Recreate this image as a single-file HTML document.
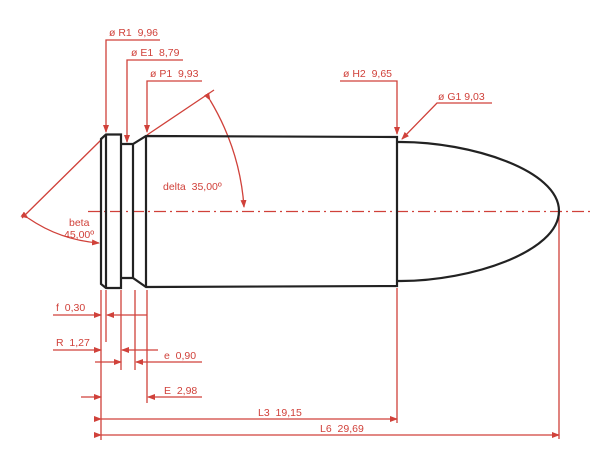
<!DOCTYPE html>
<html><head><meta charset="utf-8"><style>
html,body{margin:0;padding:0;background:#fff;width:600px;height:454px;overflow:hidden}
svg{display:block}
text{font-family:"Liberation Sans",sans-serif;font-size:10.5px;fill:#d0413a;white-space:pre}
</style></head><body>
<svg width="600" height="454" viewBox="0 0 600 454">
<defs>
<marker id="a" markerWidth="8" markerHeight="6" refX="7" refY="3" orient="auto" markerUnits="userSpaceOnUse"><path d="M0,0 L8,3 L0,6z" fill="#d0413a"/></marker>
</defs>
<g stroke="#d0413a" stroke-width="1.3" fill="none">
<line x1="88" y1="211.5" x2="590" y2="211.5" stroke-dasharray="12,4,2,4"/>
<polyline points="160,40 106,40 106,132" marker-end="url(#a)"/>
<polyline points="183,60 127,60 127,142" marker-end="url(#a)"/>
<polyline points="202,81 147,81 147,132" marker-end="url(#a)"/>
<polyline points="340,81 397,81 397,134" marker-end="url(#a)"/>
<polyline points="492,103 437,103 402,139" marker-end="url(#a)"/>
<line x1="147" y1="135" x2="214" y2="90"/>
<line x1="102" y1="139" x2="22" y2="218"/>
<path d="M210,100 Q240,150 244,207" marker-start="url(#a)" marker-end="url(#a)"/>
<path d="M28,218 Q60,240 99,243" marker-start="url(#a)" marker-end="url(#a)"/>
<line x1="101" y1="290" x2="101" y2="440"/>
<line x1="106" y1="290" x2="106" y2="342"/>
<line x1="121" y1="290" x2="121" y2="370"/>
<line x1="135" y1="290" x2="135" y2="370"/>
<line x1="147" y1="290" x2="147" y2="403"/>
<line x1="397" y1="288" x2="397" y2="423"/>
<line x1="559" y1="213" x2="559" y2="439"/>
<line x1="53" y1="315" x2="101" y2="315" marker-end="url(#a)"/>
<line x1="147" y1="315" x2="107" y2="315" marker-end="url(#a)"/>
<line x1="53" y1="350" x2="101" y2="350" marker-end="url(#a)"/>
<line x1="158" y1="350" x2="122" y2="350" marker-end="url(#a)"/>
<line x1="95" y1="362" x2="121" y2="362" marker-end="url(#a)"/>
<line x1="202" y1="362" x2="136" y2="362" marker-end="url(#a)"/>
<line x1="81" y1="397" x2="101" y2="397" marker-end="url(#a)"/>
<line x1="202" y1="397" x2="148" y2="397" marker-end="url(#a)"/>
<line x1="101" y1="419" x2="397" y2="419" marker-start="url(#a)" marker-end="url(#a)"/>
<line x1="101" y1="435" x2="559" y2="435" marker-start="url(#a)" marker-end="url(#a)"/>
</g>
<g stroke="#222" stroke-width="2.2" fill="none" stroke-linejoin="miter">
<polygon points="101,139 106,134.5 121,134.5 121,288 106,288 101,284"/>
<line x1="106" y1="135" x2="106" y2="288"/>
<polyline points="121,144 133,144 146,136 397,137 397,286 146,287 133,278 121,278"/>
<line x1="133" y1="144" x2="133" y2="278"/>
<line x1="146" y1="136" x2="146" y2="287"/>
<path d="M397,142 L401,142 C470,142 559,170 559,211 C559,252 470,281 401,281 L397,281"/>
</g>
<text x="109" y="36">ø R1&#160;&#160;9,96</text>
<text x="131" y="56">ø E1&#160;&#160;8,79</text>
<text x="150" y="77">ø P1&#160;&#160;9,93</text>
<text x="343" y="77">ø H2&#160;&#160;9,65</text>
<text x="438" y="100">ø G1 9,03</text>
<text x="163" y="190">delta&#160;&#160;35,00º</text>
<text x="69" y="226">beta</text>
<text x="64" y="238">45,00º</text>
<text x="56" y="311">f&#160;&#160;0,30</text>
<text x="56" y="346">R&#160;&#160;1,27</text>
<text x="164" y="359">e&#160;&#160;0,90</text>
<text x="164" y="394">E&#160;&#160;2,98</text>
<text x="258" y="416">L3&#160;&#160;19,15</text>
<text x="320" y="432">L6&#160;&#160;29,69</text>
</svg>
</body></html>
